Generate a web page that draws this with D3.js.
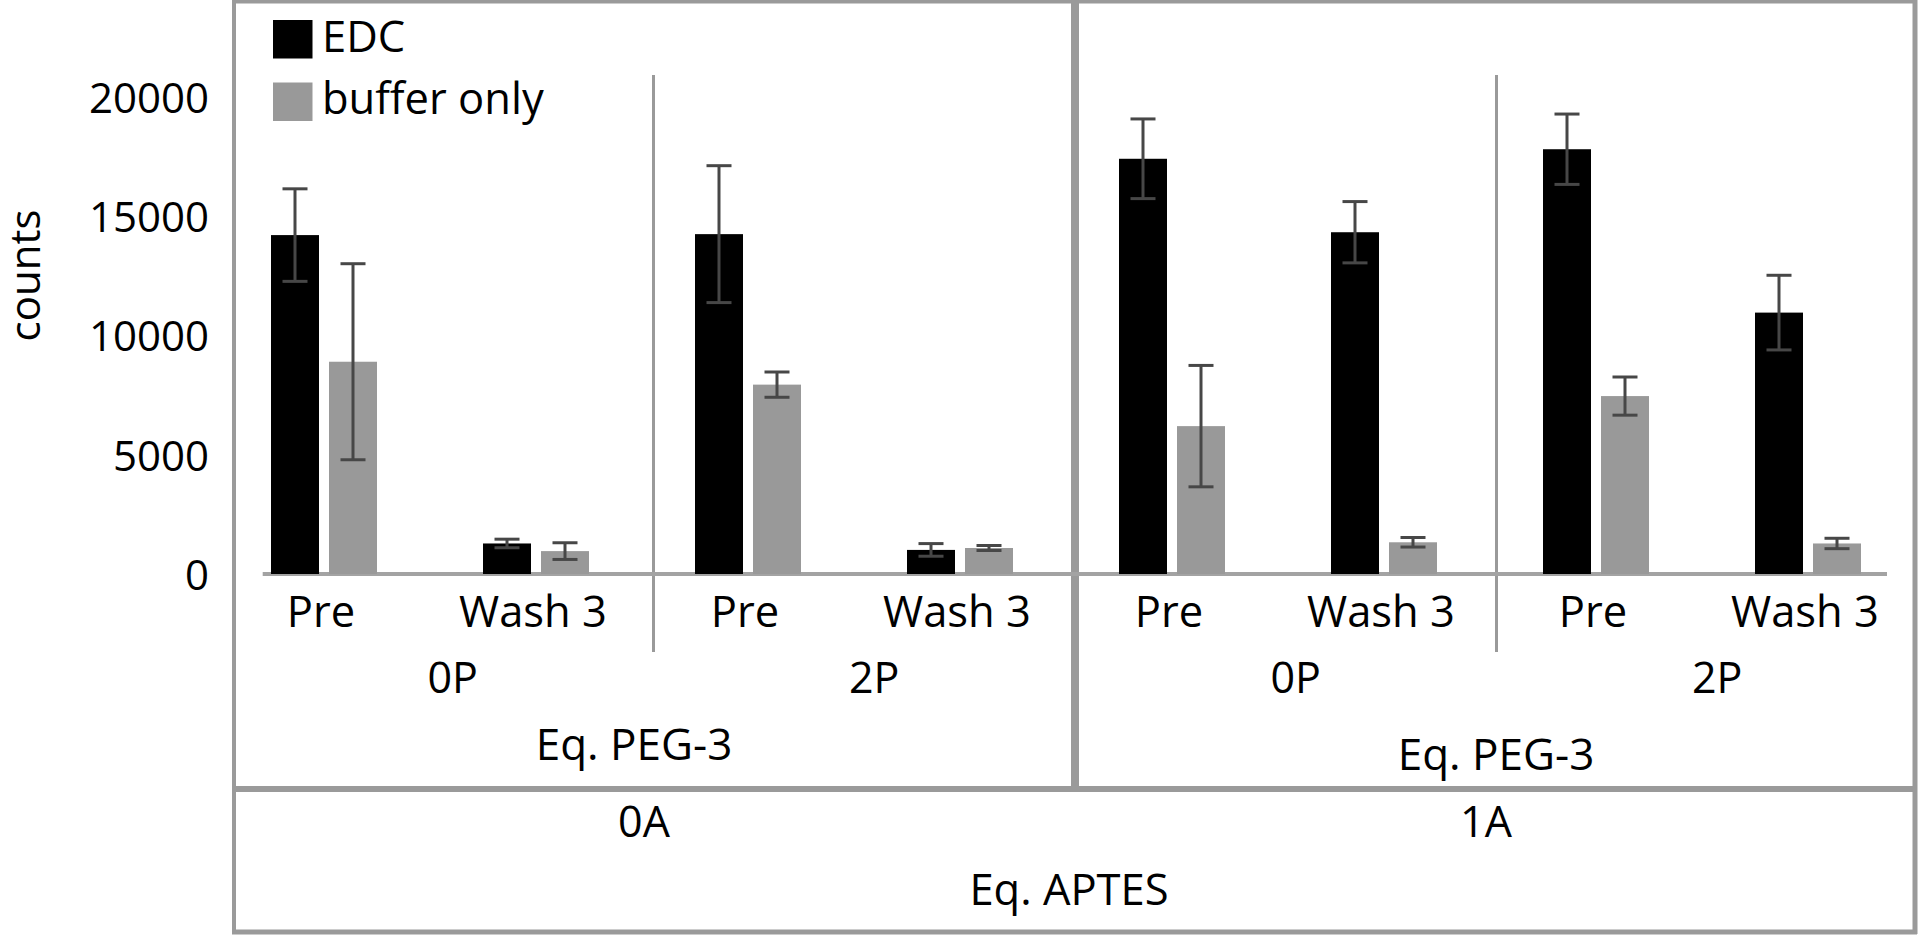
<!DOCTYPE html>
<html>
<head>
<meta charset="utf-8">
<script src="https://cdn.jsdelivr.net/npm/d3@7"></script>
<style>
  html, body { margin: 0; padding: 0; background: #fff; }
  svg { display: block; }
  text { font-family: "Open Sans", "Noto Sans", sans-serif; fill: #000; }
</style>
</head>
<body>
<svg id="chart" width="1920" height="937"></svg>
<script>
// ---- data ----
const aptesLevels = ["0A", "1A"];
const pegLevels = ["0P", "2P"];
const stages = ["Pre", "Wash 3"];
const categories = [
  "0A|0P|Pre", "0A|0P|Wash 3", "0A|2P|Pre", "0A|2P|Wash 3",
  "1A|0P|Pre", "1A|0P|Wash 3", "1A|2P|Pre", "1A|2P|Wash 3"
];
const seriesNames = ["EDC", "buffer only"];
const edcValues    = [14210, 1280, 14250, 1010, 17410, 14330, 17810, 10960];
const edcErrors    = [1940, 180, 2870, 265, 1670, 1285, 1475, 1565];
const bufferValues = [8900, 960, 7940, 1090, 6200, 1330, 7460, 1280];
const bufferErrors = [4110, 350, 530, 105, 2545, 200, 800, 218];
const yTicks = [0, 5000, 10000, 15000, 20000];
const yLabel = "counts";
const pegTitle = "Eq. PEG-3";
const aptesTitle = "Eq. APTES";

const seriesColors = ["#000000", "#999999"];
const frameColor = "#9a9a9a";

const svg = d3.select("#chart");

// ---- scales ----
const y = d3.scaleLinear().domain([0, 20000]).range([574, 97]);
const x = d3.scaleBand().domain(categories).range([218, 1914]).padding(0);
const xs = d3.scaleBand().domain(seriesNames)
  .range([x.bandwidth() / 2 - 53, x.bandwidth() / 2 + 53]).paddingInner(0.1724);
const groups = [];
aptesLevels.forEach(a => pegLevels.forEach(p => groups.push(a + "|" + p)));
const xg = d3.scaleBand().domain(groups).range([232, 1918]);
const xa = d3.scaleBand().domain(aptesLevels).range([233, 1917]);

const series = seriesNames.map((name, i) => ({
  name, color: seriesColors[i],
  values: i === 0 ? edcValues : bufferValues,
  errors: i === 0 ? edcErrors : bufferErrors
}));

// ---- frame ----
const frame = svg.append("g");
frame.append("line").attr("x1", 234).attr("x2", 234).attr("y1", 0).attr("y2", 934)
  .attr("stroke", frameColor).attr("stroke-width", 4);
frame.append("line").attr("x1", 1915).attr("x2", 1915).attr("y1", 0).attr("y2", 934)
  .attr("stroke", frameColor).attr("stroke-width", 5);
frame.append("line").attr("x1", 232).attr("x2", 1917).attr("y1", 1.5).attr("y2", 1.5)
  .attr("stroke", frameColor).attr("stroke-width", 4);
frame.append("line").attr("x1", 232).attr("x2", 1917).attr("y1", 932).attr("y2", 932)
  .attr("stroke", frameColor).attr("stroke-width", 5);
frame.append("line").attr("x1", 232).attr("x2", 1917).attr("y1", 789).attr("y2", 789)
  .attr("stroke", frameColor).attr("stroke-width", 6);
// middle divider between APTES levels
frame.append("line").attr("x1", xa("1A")).attr("x2", xa("1A")).attr("y1", 0).attr("y2", 789)
  .attr("stroke", frameColor).attr("stroke-width", 8);
// inner dividers between PEG levels
["0A|2P", "1A|2P"].forEach(g => {
  frame.append("line").attr("x1", xg(g)).attr("x2", xg(g)).attr("y1", 75).attr("y2", 652)
    .attr("stroke", frameColor).attr("stroke-width", 3);
});

// ---- baseline ----
svg.append("line").attr("x1", 262.7).attr("x2", 1887).attr("y1", y(0)).attr("y2", y(0))
  .attr("stroke", "#a3a3a3").attr("stroke-width", 4);

// ---- y axis ----
const yAxis = d3.axisLeft(y).tickValues(yTicks).tickSize(0).tickPadding(0).tickFormat(d3.format("d"));
const yg = svg.append("g").attr("transform", "translate(209,2)").call(yAxis);
yg.select(".domain").remove();
yg.selectAll("text").style("font-size", "42px").style("font-family", "'Open Sans', sans-serif").attr("fill", "#000");

svg.append("text")
  .attr("transform", "translate(40,275.5) rotate(-90)")
  .attr("text-anchor", "middle")
  .style("font-size", "42px")
  .text(yLabel);

// ---- bars ----
series.forEach(s => {
  const g = svg.append("g");
  g.selectAll("rect").data(categories).join("rect")
    .attr("x", (c) => x(c) + xs(s.name))
    .attr("width", xs.bandwidth())
    .attr("y", (c, i) => y(s.values[i]))
    .attr("height", (c, i) => y(0) - y(s.values[i]))
    .attr("fill", s.color);
});

// ---- error bars ----
series.forEach(s => {
  const g = svg.append("g").attr("stroke", "#474747").attr("stroke-width", 3);
  categories.forEach((c, i) => {
    const cx = x(c) + xs(s.name) + xs.bandwidth() / 2;
    const hi = y(s.values[i] + s.errors[i]);
    const lo = y(s.values[i] - s.errors[i]);
    g.append("line").attr("x1", cx).attr("x2", cx).attr("y1", hi).attr("y2", lo);
    g.append("line").attr("x1", cx - 12.5).attr("x2", cx + 12.5).attr("y1", hi).attr("y2", hi);
    g.append("line").attr("x1", cx - 12.5).attr("x2", cx + 12.5).attr("y1", lo).attr("y2", lo);
  });
});

// ---- category labels ----
svg.append("g").selectAll("text").data(categories).join("text")
  .attr("x", c => x(c) + x.bandwidth() / 2 - 3)
  .attr("y", 627)
  .attr("text-anchor", "middle")
  .style("font-size", "43.5px")
  .text(c => c.split("|")[2]);

svg.append("g").selectAll("text").data(groups).join("text")
  .attr("x", g => xg(g) + xg.bandwidth() / 2 + 10)
  .attr("y", 693)
  .attr("text-anchor", "middle")
  .style("font-size", "43px")
  .text(g => g.split("|")[1]);

const pegTitleY = { "0A": 760, "1A": 770 };
const pegTitleDx = { "0A": -20, "1A": 0 };
svg.append("g").selectAll("text").data(aptesLevels).join("text")
  .attr("x", a => xa(a) + xa.bandwidth() / 2 + pegTitleDx[a])
  .attr("y", a => pegTitleY[a])
  .attr("text-anchor", "middle")
  .style("font-size", "44px")
  .text(pegTitle);

svg.append("g").selectAll("text").data(aptesLevels).join("text")
  .attr("x", a => xa(a) + xa.bandwidth() / 2 - 10)
  .attr("y", 837)
  .attr("text-anchor", "middle")
  .style("font-size", "43px")
  .text(a => a);

svg.append("text")
  .attr("x", 1069)
  .attr("y", 905)
  .attr("text-anchor", "middle")
  .style("font-size", "43.5px")
  .text(aptesTitle);

// ---- legend ----
const legend = svg.append("g");
series.forEach((s, i) => {
  legend.append("rect").attr("x", 273).attr("y", 20 + i * 62.5)
    .attr("width", 39.5).attr("height", 38.5).attr("fill", s.color);
  legend.append("text").attr("x", 322).attr("y", 51.7 + i * 62)
    .style("font-size", "43.5px").text(s.name);
});
</script>
</body>
</html>
